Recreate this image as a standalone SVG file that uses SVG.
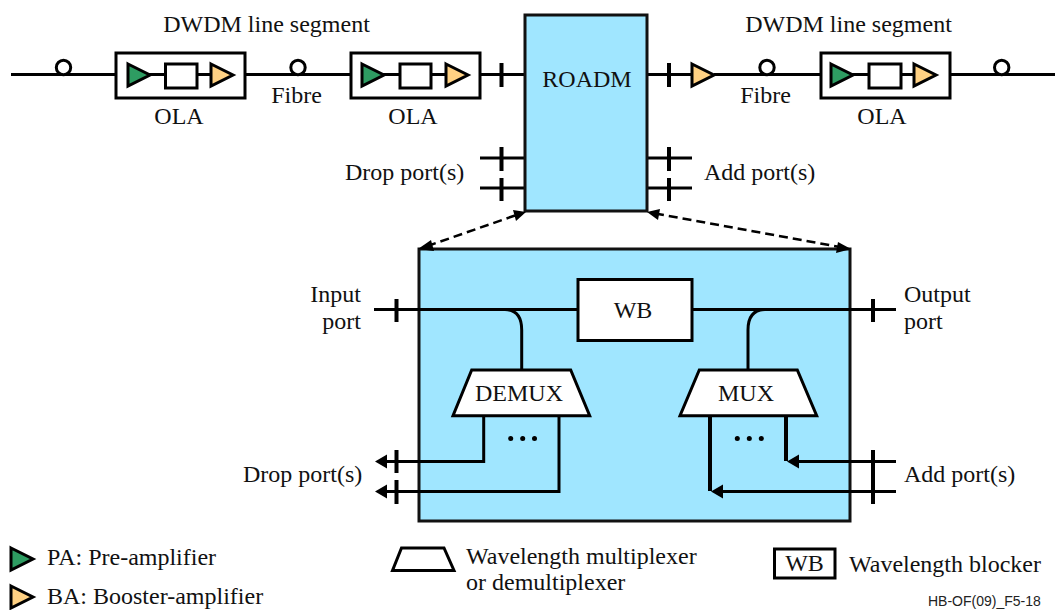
<svg xmlns="http://www.w3.org/2000/svg" width="1060" height="610" viewBox="0 0 1060 610">
<style>
text{font-family:"Liberation Serif","Times New Roman",serif;font-size:24px;fill:#111}
.m{text-anchor:middle}
.w{fill:none;stroke:#000;stroke-width:3}
.b{fill:#fff;stroke:#000;stroke-width:3}
.c{fill:#a0e6ff;stroke:#111;stroke-width:3}
.pa{fill:#2e9c62;stroke:#000;stroke-width:3}
.ba{fill:#ffd183;stroke:#000;stroke-width:3}
.l{fill:none;stroke:#000;stroke-width:3}
.t{fill:none;stroke:#000;stroke-width:4}
.d{fill:none;stroke:#000;stroke-width:2.500;stroke-dasharray:9 5}
.a{fill:#000}
</style>
<defs>
<polygon id="tri" points="0,-11 22,0 0,11"/>
</defs>
<g id="connectors">
<path class="l" d="M11 74.500H116M245 74.500H351M480 74.500H525M647 74.500H691M714 74.500H821M950 74.500H1055"/>
<path class="t" d="M501.500 63V87M501.500 147V171M501.500 178V201M669 63V87M669 147V171M669 178V201"/>
<path class="l" d="M480 158H525M480 188H525M647 158H692M647 188H692"/>
<path class="l" d="M143 74.500H165M197 74.500H211M376 74.500H400M431 74.500H446M845 74.500H869M901 74.500H914"/>
</g>
<g id="roadm"><rect class="c" x="525" y="15" width="122" height="196"/><text class="m" x="587" y="87">ROADM</text></g>
<g id="detail"><rect class="c" x="419" y="249" width="431" height="272"/></g>
<g id="dashed-connectors">
<path class="d" d="M515 215.500L429 245.500M655 213.500L840 247"/>
<polygon class="a" points="526,212 513,210 516,221"/>
<polygon class="a" points="418,249 431,240 434,251"/>
<polygon class="a" points="647,212 660,209 658,220"/>
<polygon class="a" points="851,249 838,242 836,253"/>
</g>
<g id="detail-connectors">
<path class="l" d="M374 309.500H578M692 309.500H896"/>
<path class="t" d="M396.500 299V322M873 299V322M396.500 450V473M396.500 480V504M873 450V504"/>
<path class="l" d="M505 309.500Q521.700 310 521.700 330V370M765 309.500Q748 310 748 330V370" stroke-width="3.500"/>
<path class="l" stroke-width="2.500" d="M483.700 416V461.500H386M559 416V491.500H386"/>
<polygon class="a" points="375,461.500 387,454.500 387,468.500"/>
<polygon class="a" points="375,491.500 387,484.500 387,498.500"/>
<path class="t" d="M710 416V491M786 416V461"/>
<path class="l" d="M798 461.500H896M722 491.500H896"/>
<polygon class="a" points="787,461.500 799,454.500 799,468.500"/>
<polygon class="a" points="711,491.500 723,484.500 723,498.500"/>
<g class="a"><circle cx="510.700" cy="438.500" r="2.500"/><circle cx="522.700" cy="438.500" r="2.500"/><circle cx="534.500" cy="438.500" r="2.500"/><circle cx="737.300" cy="438.500" r="2.500"/><circle cx="749.300" cy="438.500" r="2.500"/><circle cx="761.300" cy="438.500" r="2.500"/></g>
</g>
<g id="fibre-marks" class="b"><circle cx="63.500" cy="67.500" r="7.200"/><circle cx="298" cy="67.500" r="7.200"/><circle cx="767" cy="67.500" r="7.200"/><circle cx="1001.700" cy="67.500" r="7.200"/></g>
<g id="ola1"><rect class="w" x="116" y="53" width="129" height="45"/><use href="#tri" x="128" y="75" class="pa"/><rect class="b" x="165.500" y="64" width="31.500" height="24"/><use href="#tri" x="211" y="75" class="ba"/></g>
<g id="ola2"><rect class="w" x="351" y="53" width="129" height="45"/><use href="#tri" x="362" y="75" class="pa"/><rect class="b" x="400" y="64" width="31" height="24"/><use href="#tri" x="446" y="75" class="ba"/></g>
<g id="ba-right"><use href="#tri" x="692" y="75" class="ba"/></g>
<g id="ola3"><rect class="w" x="821" y="53" width="129" height="45"/><use href="#tri" x="831" y="75" class="pa"/><rect class="b" x="869" y="64" width="32" height="24"/><use href="#tri" x="914" y="75" class="ba"/></g>
<g id="wb"><rect class="b" x="578" y="279.500" width="114" height="61"/><text class="m" x="633" y="318">WB</text></g>
<g id="demux"><polygon class="b" points="471.700,370 570.700,370 589.700,415.700 453,415.700"/><text class="m" x="519" y="401">DEMUX</text></g>
<g id="mux"><polygon class="b" points="699.300,370 797.300,370 816.700,415.700 680,415.700"/><text class="m" x="746" y="401">MUX</text></g>
<g id="labels">
<text class="m" x="266.500" y="32">DWDM line segment</text>
<text class="m" x="848.500" y="32">DWDM line segment</text>
<text class="m" x="179" y="124">OLA</text>
<text class="m" x="413" y="124">OLA</text>
<text class="m" x="882" y="124">OLA</text>
<text class="m" x="296.500" y="103">Fibre</text>
<text class="m" x="765.500" y="103">Fibre</text>
<text x="345" y="180">Drop port(s)</text>
<text x="704" y="180">Add port(s)</text>
<text x="361" y="302" text-anchor="end">Input</text>
<text x="361" y="329" text-anchor="end">port</text>
<text x="904" y="302">Output</text>
<text x="904" y="329">port</text>
<text x="243" y="482">Drop port(s)</text>
<text x="904" y="482">Add port(s)</text>
</g>
<g id="legend">
<use href="#tri" x="11" y="559" class="pa"/><text x="47" y="565">PA: Pre-amplifier</text>
<use href="#tri" x="11" y="597" class="ba"/><text x="47" y="604">BA: Booster-amplifier</text>
<polygon class="w" points="401.500,548 444,548 454,570.500 392.500,570.500"/>
<text x="466" y="564">Wavelength multiplexer</text><text x="466" y="590">or demultiplexer</text>
<rect class="w" x="774.500" y="549" width="60.500" height="29"/><text class="m" x="804.500" y="571">WB</text>
<text x="849" y="572">Wavelength blocker</text>
<text x="928" y="606" style="font-family:'Liberation Sans',Arial,sans-serif;font-size:14px;fill:#222">HB-OF(09)_F5-18</text>
</g>
</svg>
